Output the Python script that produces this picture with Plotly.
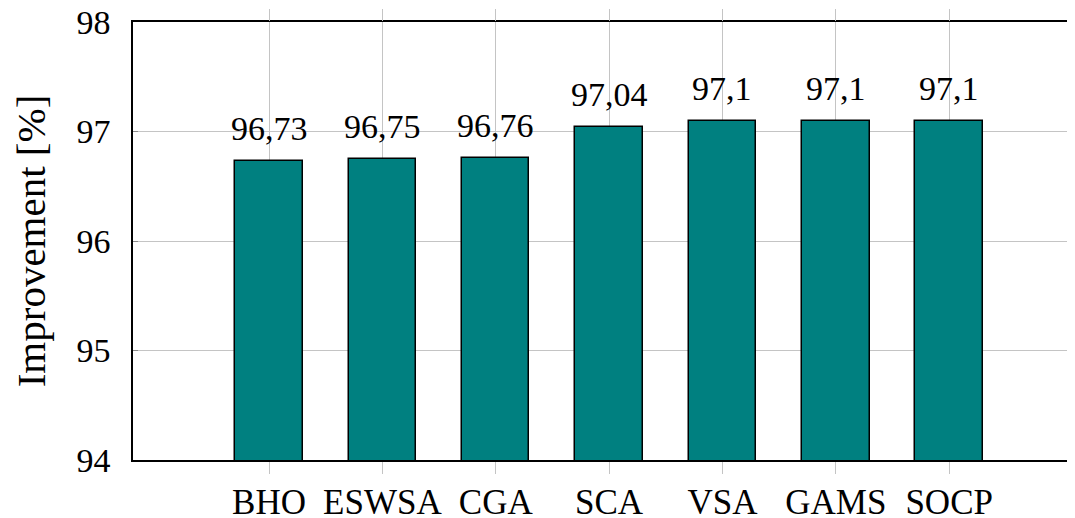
import plotly.graph_objects as go

categories = ["BHO", "ESWSA", "CGA", "SCA", "VSA", "GAMS", "SOCP"]
values = [96.73, 96.75, 96.76, 97.04, 97.1, 97.1, 97.1]
y_ticks = [94, 95, 96, 97, 98]
labels = [f"{v:g}".replace(".", ",") for v in values]

SERIF = "Liberation Serif"
GRID = "#c4c4c4"

fig = go.Figure()
fig.add_trace(go.Bar(
    x=categories, y=values, width=0.595,
    marker=dict(color="#008080", line=dict(color="black", width=1.5)),
    showlegend=False, hoverinfo="skip",
))
# helper trace for top overlay axis (category tick extensions)
fig.add_trace(go.Scatter(
    x=list(range(len(categories))), y=values, xaxis="x2", mode="markers",
    marker=dict(opacity=0), showlegend=False, hoverinfo="skip",
))

for c, v, t in zip(categories, values, labels):
    fig.add_annotation(x=c, y=v, text=t, showarrow=False, yanchor="bottom",
                       yshift=12, font=dict(family=SERIF, size=34, color="black"))

# page has an 8px body margin, so the figure is sized/offset to compensate
fig.update_layout(
    width=1067, height=510,
    margin=dict(l=125, r=0, t=14, b=58),
    plot_bgcolor="white", paper_bgcolor="white",
    bargap=0,
    xaxis=dict(
        range=[-1.2, 7.11], showgrid=True, gridcolor=GRID, gridwidth=1,
        showline=True, linecolor="black", linewidth=1.5, mirror=True,
        ticks="outside", ticklen=12, tickcolor=GRID, tickwidth=1,
        tickfont=dict(family=SERIF, size=35, color="black"),
        ticklabelstandoff=-2, ticklabeloverflow="allow",
        zeroline=False, automargin=False,
    ),
    xaxis2=dict(
        overlaying="x", side="top", range=[-1.2, 7.11],
        tickmode="array", tickvals=list(range(len(categories))),
        ticks="outside", ticklen=12, tickcolor=GRID, tickwidth=1,
        showticklabels=False, showgrid=False, showline=False, zeroline=False,
        automargin=False,
    ),
    yaxis=dict(
        range=[94, 98], tickvals=y_ticks,
        showgrid=True, gridcolor=GRID, gridwidth=1,
        showline=True, linecolor="black", linewidth=1.5, mirror=False,
        ticks="inside", ticklen=5, tickcolor="#8a8a8a",
        tickfont=dict(family=SERIF, size=34, color="black"),
        ticklabelstandoff=14, ticklabeloverflow="allow",
        zeroline=False, automargin=False,
        title=dict(text="Improvement [%]", font=dict(family=SERIF, size=41, color="black"),
                   standoff=25),
    ),
)

fig.write_html("out.html")
